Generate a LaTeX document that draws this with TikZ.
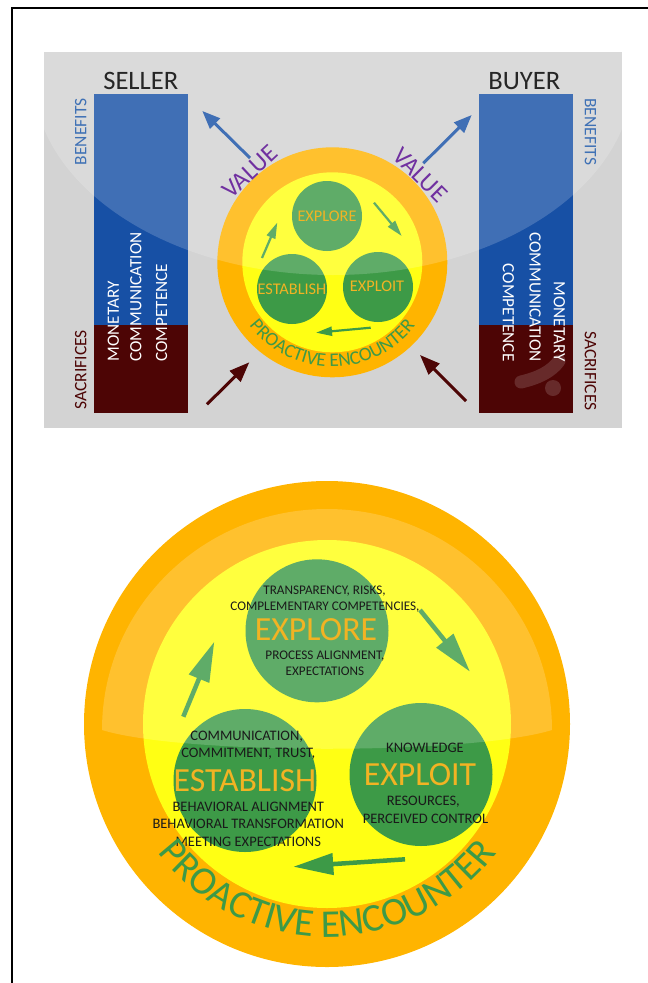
\documentclass[tikz,border=0pt]{standalone}
\usepackage{fontspec}
\setmainfont{Carlito}
\usetikzlibrary{arrows.meta,decorations.text}

\definecolor{panelgrey}{HTML}{D3D3D3}
\definecolor{barblue}{HTML}{1750A5}
\definecolor{benefitblue}{HTML}{3F71B5}
\definecolor{barred}{HTML}{4D0505}
\definecolor{valpurple}{HTML}{7030A0}
\definecolor{ringorange}{HTML}{FFB400}
\definecolor{coreyellow}{HTML}{FFFF14}
\definecolor{stagegreen}{HTML}{3D9A47}
\definecolor{stagetext}{HTML}{F2B323}
\definecolor{inktext}{HTML}{1A1A1A}
\definecolor{headgrey}{HTML}{262626}

\begin{document}
\begin{tikzpicture}[x=1pt,y=1pt,
  txt/.style={inner sep=0pt, text depth=0pt},
  hdr/.style={txt, font=\fontsize{26.6}{28}\selectfont, text height=16.8pt, text=headgrey},
  side/.style={txt, font=\fontsize{17.5}{19}\selectfont, text height=11.1pt},
  bartext/.style={txt, font=\fontsize{17.2}{19}\selectfont, text height=10.9pt, text=white},
  valtext/.style={txt, font=\fontsize{25}{26}\selectfont, text height=15.8pt, text=valpurple},
  smalllbl/.style={txt, font=\fontsize{16.3}{17}\selectfont, text height=10.3pt, text=stagetext},
  biglbl/.style={txt, font=\fontsize{33.8}{35}\selectfont, text height=21.4pt, text=stagetext},
  notea/.style={txt, font=\fontsize{13.2}{14}\selectfont, text height=8.3pt, text=inktext},
  noteb/.style={txt, font=\fontsize{14.5}{15}\selectfont, text height=9.2pt, text=inktext},
  disc/.style={circle, inner sep=0pt, draw=none},
  gloss/.style={fill=white, fill opacity=0.18},
  valarrow/.style={draw=barblue, line width=3pt, -{Triangle[length=18pt,width=14pt]}},
  costarrow/.style={draw=barred, line width=3pt, -{Triangle[length=20pt,width=15pt]}},
  cyclesmall/.style={draw=stagegreen, line width=2.2pt, -{Triangle[length=16pt,width=9pt]}},
  cyclebig/.style={draw=stagegreen, line width=4.5pt, -{Triangle[length=40pt,width=21pt]}},
]
\useasboundingbox (0,0) rectangle (648,-983);

% page frame (top and left rules)
\draw[line width=2pt] (11.5,-983) -- (11.5,-8) -- (648,-8);

% ---------------- value panel ----------------
\fill[panelgrey] (44,-52) rectangle (622,-428);

% seller and buyer bars
\fill[barblue] (94.3,-94.3) rectangle (188.3,-325);
\fill[barred]  (94.3,-325) rectangle (188.3,-413.3);
\fill[barblue] (479.3,-94.3) rectangle (573.3,-325);
\fill[barred]  (479.3,-325) rectangle (573.3,-413.3);
% worn spot on the buyer bar
\draw[white, opacity=0.15, line width=13pt, line cap=round]
  (521,-382) .. controls (538,-378) and (551,-372) .. (559,-361);
\fill[white, opacity=0.15] (553,-388) circle[radius=8];

% small encounter emblem
\node[disc, fill=ringorange, minimum size=230] (t-ring) at (332.3,-262.3) {};
\node[disc, fill=coreyellow, minimum size=180] (t-core) at (t-ring.center) {};
\node[disc, fill=stagegreen, minimum size=70] (t-explore) at (327,-216) {};
\node[disc, fill=stagegreen, minimum size=70] (t-establish) at (292,-289) {};
\node[disc, fill=stagegreen, minimum size=70] (t-exploit) at (378,-287) {};

% cycle arrows of the small emblem
\coordinate (t-up-s) at (262,-258);     \coordinate (t-up-e) at (277.3,-222.5);
\coordinate (t-down-s) at (374,-202.7); \coordinate (t-down-e) at (401.7,-236);
\coordinate (t-back-s) at (370.7,-327.7); \coordinate (t-back-e) at (316,-332.7);
\draw[cyclesmall] (t-up-s) -- (t-up-e);
\draw[cyclesmall] (t-down-s) -- (t-down-e);
\draw[cyclesmall] (t-back-s) -- (t-back-e);

% value and sacrifice arrows
\coordinate (s-val-s) at (250,-158);     \coordinate (s-val-e) at (202.3,-111);
\coordinate (b-val-s) at (423.3,-163.3); \coordinate (b-val-e) at (471.7,-115);
\coordinate (s-cost-s) at (207,-404.3);  \coordinate (s-cost-e) at (249.3,-362.3);
\coordinate (b-cost-s) at (466,-401);    \coordinate (b-cost-e) at (420,-355);
\draw[valarrow] (s-val-s) -- (s-val-e);
\draw[valarrow] (b-val-s) -- (b-val-e);
\draw[costarrow] (s-cost-s) -- (s-cost-e);
\draw[costarrow] (b-cost-s) -- (b-cost-e);

% gloss over the upper part of the panel
\begin{scope}
  \clip (44,-52) rectangle (622,-428);
  \fill[gloss] (333,-75) ellipse[x radius=300, y radius=200];
\end{scope}

% panel labels
\node[hdr] (seller) at (140.8,-81.3) {SELLER};
\node[hdr] (buyer) at (524.3,-81.3) {BUYER};
\node[side, text=benefitblue, rotate=90] (s-benefits) at (80.8,-131.7) {BENEFITS};
\node[side, text=barred, rotate=90] (s-sacrifices) at (80.8,-369.7) {SACRIFICES};
\node[side, text=benefitblue, rotate=-90] (b-benefits) at (590.3,-131.7) {BENEFITS};
\node[side, text=barred, rotate=-90] (b-sacrifices) at (590.3,-370.8) {SACRIFICES};

\node[bartext, rotate=90, anchor=west] (s-monetary) at (113.3,-361.7) {MONETARY};
\node[bartext, rotate=90, anchor=west] (s-communication) at (135.8,-361.7) {COMMUNICATION};
\node[bartext, rotate=90, anchor=west] (s-competence) at (161.7,-361.7) {COMPETENCE};
\node[bartext, rotate=-90, anchor=east] (b-monetary) at (559.3,-361.7) {MONETARY};
\node[bartext, rotate=-90, anchor=east] (b-communication) at (535,-361.7) {COMMUNICATION};
\node[bartext, rotate=-90, anchor=east] (b-competence) at (508.3,-361.7) {COMPETENCE};

\node[valtext, rotate=43] (s-value) at (250,-171.7) {VALUE};
\node[valtext, rotate=-45] (b-value) at (420,-175) {VALUE};

\node[smalllbl] (t-explore-lbl) at (327,-216) {EXPLORE};
\node[smalllbl] (t-establish-lbl) at (292,-289) {ESTABLISH};
\node[smalllbl] (t-exploit-lbl) at (377,-286.7) {EXPLOIT};

\path[decorate, decoration={text along path, text align=center,
    text={|\color{stagegreen}\fontsize{19.2}{20}\selectfont|PROACTIVE ENCOUNTER}}]
  (234.2,-298.0) arc[start angle=200, end angle=340, radius=104.4];

% ---------------- large encounter emblem ----------------
\node[disc, fill=ringorange, minimum size=486] (ring) at (327,-724) {};
\node[disc, fill=coreyellow, minimum size=368] (core) at (ring.center) {};
\node[disc, fill=stagegreen, minimum size=143] (explore) at (317,-630.8) {};
\node[disc, fill=stagegreen, minimum size=143] (establish) at (245,-780.5) {};
\node[disc, fill=stagegreen, minimum size=143] (exploit) at (421,-774.5) {};

\coordinate (up-s) at (183.3,-716.7);   \coordinate (up-e) at (214.3,-641.7);
\coordinate (down-s) at (420,-610);     \coordinate (down-e) at (470,-671.7);
\coordinate (back-s) at (405,-859.3);   \coordinate (back-e) at (293.3,-866.7);
\draw[cyclebig] (up-s) -- (up-e);
\draw[cyclebig] (down-s) -- (down-e);
\draw[cyclebig] (back-s) -- (back-e);

% gloss of the large emblem
\fill[gloss] (102,-730) arc[start angle=180, end angle=0, x radius=225, y radius=221]
  .. controls (470,-755) and (184,-755) .. (102,-730) -- cycle;

% explore
\node[notea] (ex-1) at (324.5,-590.5) {TRANSPARENCY, RISKS,};
\node[notea] (ex-2) at (325,-606.6) {COMPLEMENTARY COMPETENCIES,};
\node[biglbl] (explore-lbl) at (316,-630) {EXPLORE};
\node[notea] (ex-3) at (325,-655.5) {PROCESS ALIGNMENT,};
\node[notea] (ex-4) at (325,-671) {EXPECTATIONS};

% establish
\node[noteb] (es-1) at (246.7,-736.3) {COMMUNICATION,};
\node[noteb] (es-2) at (248.3,-753.3) {COMMITMENT, TRUST,};
\node[biglbl] (establish-lbl) at (245,-780.5) {ESTABLISH};
\node[noteb] (es-3) at (248.3,-807) {BEHAVIORAL ALIGNMENT};
\node[noteb] (es-4) at (248.3,-824.3) {BEHAVIORAL TRANSFORMATION};
\node[noteb] (es-5) at (248.3,-842) {MEETING EXPECTATIONS};

% exploit
\node[noteb] (xp-1) at (425,-748.3) {KNOWLEDGE};
\node[biglbl] (exploit-lbl) at (420,-774.4) {EXPLOIT};
\node[noteb] (xp-2) at (423.3,-801) {RESOURCES,};
\node[noteb] (xp-3) at (425.5,-819) {PERCEIVED CONTROL};

\path[decorate, decoration={text along path, text align=center,
    text={|\color{stagegreen}\fontsize{39.3}{40}\selectfont|PROACTIVE ENCOUNTER}}]
  (126.8,-796.8) arc[start angle=200, end angle=340, radius=213];

\end{tikzpicture}
\end{document}
